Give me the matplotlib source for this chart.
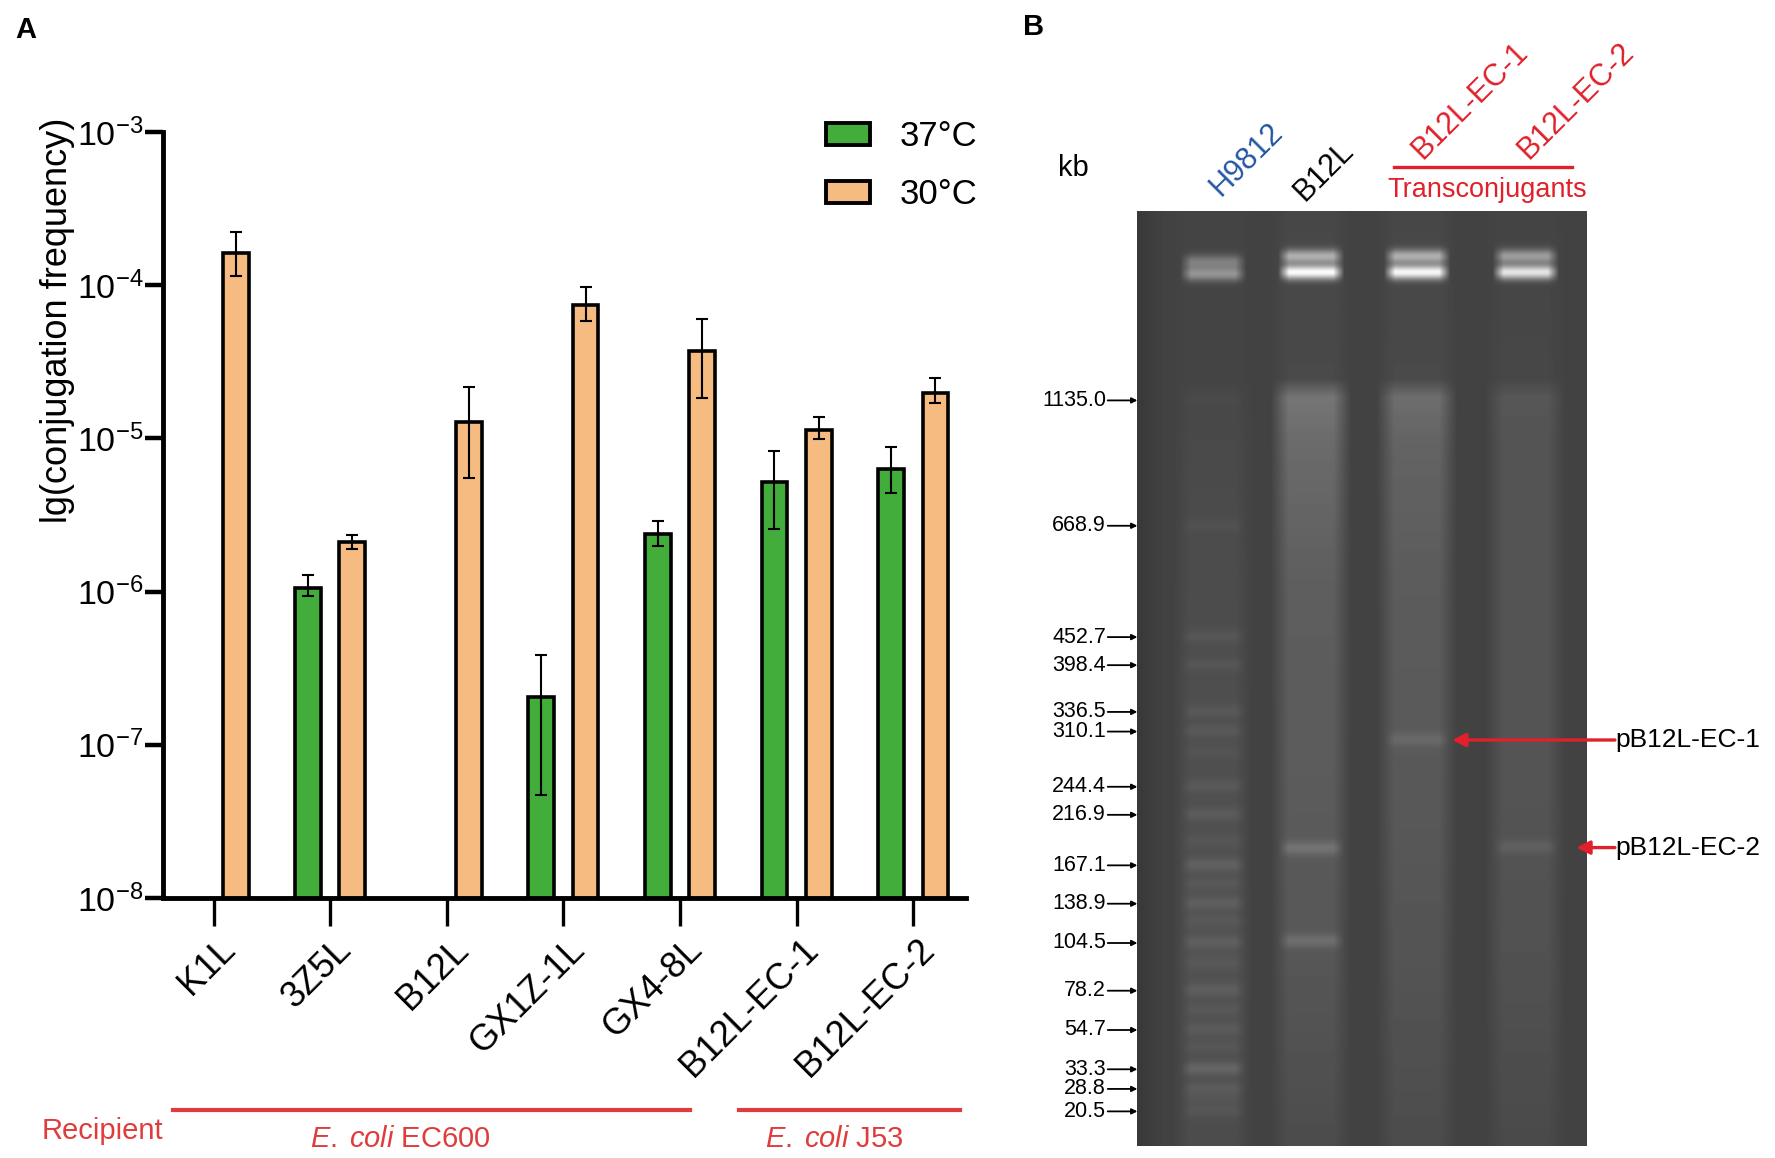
import numpy as np
import matplotlib as mpl
mpl.use("Agg")
import matplotlib.pyplot as plt
from matplotlib.patches import Patch
from matplotlib.transforms import ScaledTranslation

mpl.rcParams["font.family"] = ["Liberation Sans", "DejaVu Sans"]
mpl.rcParams["mathtext.fontset"] = "custom"
mpl.rcParams["mathtext.rm"] = "Liberation Sans"
mpl.rcParams["mathtext.it"] = "Liberation Sans:italic"
mpl.rcParams["axes.unicode_minus"] = False

W, H = 1775, 1158

# ---- panel A data: conjugation frequency ----
strains = ["K1L", "3Z5L", "B12L", "GX1Z-1L", "GX4-8L", "B12L-EC-1", "B12L-EC-2"]
freq_37 = [np.nan, 1.06e-6, np.nan, 2.04e-7, 2.36e-6, 5.18e-6, 6.34e-6]
low_37 = [np.nan, 0.94e-6, np.nan, 4.7e-8, 1.97e-6, 2.57e-6, 4.41e-6]
high_37 = [np.nan, 1.28e-6, np.nan, 3.83e-7, 2.91e-6, 8.3e-6, 8.79e-6]
freq_30 = [1.63e-4, 2.10e-6, 1.27e-5, 7.43e-5, 3.71e-5, 1.13e-5, 1.99e-5]
low_30 = [1.14e-4, 1.90e-6, 5.48e-6, 5.8e-5, 1.84e-5, 9.86e-6, 1.71e-5]
high_30 = [2.24e-4, 2.34e-6, 2.16e-5, 9.73e-5, 6.04e-5, 1.38e-5, 2.48e-5]

# ---- panel B data: PFGE gel ----
lane_names = ["H9812", "B12L", "B12L-EC-1", "B12L-EC-2"]
lane_colors = ["#2456a4", "black", "#e0202a", "#e0202a"]
marker_kb = [1135.0, 668.9, 452.7, 398.4, 336.5, 310.1, 244.4, 216.9,
             167.1, 138.9, 104.5, 78.2, 54.7, 33.3, 28.8, 20.5]
# relative migration (fraction of gel length from the top)
marker_pos = [0.203, 0.337, 0.456, 0.486, 0.536, 0.557, 0.616, 0.646,
              0.700, 0.741, 0.783, 0.834, 0.876, 0.918, 0.939, 0.963]
marker_amp = [0.012, 0.025, 0.035, 0.035, 0.04, 0.04, 0.04, 0.045,
              0.065, 0.055, 0.055, 0.055, 0.045, 0.09, 0.05, 0.035]
ladder_extra_pos = [0.58, 0.675, 0.72, 0.76, 0.805, 0.855, 0.895, 0.95]
ladder_extra_amp = [0.02, 0.025, 0.03, 0.03, 0.03, 0.03, 0.03, 0.025]
sample_bands = [[], [(0.682, 0.10), (0.781, 0.09)], [(0.566, 0.06)], [(0.681, 0.05)]]
well_bands = [[(0.055, 0.22), (0.068, 0.30)],
              [(0.049, 0.40), (0.066, 0.70)],
              [(0.049, 0.40), (0.066, 0.68)],
              [(0.049, 0.34), (0.066, 0.62)]]
smear_knots = [0.0, 0.18, 0.20, 0.25, 0.4, 0.6, 0.8, 1.0]
smear_level = [[0.27, 0.27, 0.28, 0.29, 0.30, 0.31, 0.32, 0.30],
               [0.28, 0.29, 0.46, 0.42, 0.37, 0.36, 0.34, 0.30],
               [0.28, 0.29, 0.43, 0.39, 0.36, 0.35, 0.33, 0.30],
               [0.27, 0.28, 0.34, 0.33, 0.33, 0.33, 0.32, 0.29]]
plasmids = ["pB12L-EC-1", "pB12L-EC-2"]
plasmid_pos = [0.566, 0.681]
plasmid_head_x = [0.70, 0.976]

green = "#43ad3c"
orange = "#f5bb80"
red = "#e03c3c"
gel_bg = 0.26


def fx(x):
    return x / W


def fy(y):
    return 1 - y / H


fig = plt.figure(figsize=(W / 100, H / 100), dpi=100)

# ================= panel A =================
ax = fig.add_axes([fx(162.6), fy(898), fx(966) - fx(162.6), fy(132) - fy(898)])
x = np.arange(len(strains))
off, bw = 0.19, 0.22
f37 = np.array(freq_37)
f30 = np.array(freq_30)
ax.bar(x - off, f37, bw, color=green, edgecolor="black", linewidth=2.6, zorder=2)
ax.bar(x + off, f30, bw, color=orange, edgecolor="black", linewidth=2.6, zorder=2)
ax.errorbar(x - off, f37, yerr=[f37 - np.array(low_37), np.array(high_37) - f37],
            fmt="none", ecolor="black", elinewidth=1.5, capsize=4.5, capthick=1.5, zorder=3)
ax.errorbar(x + off, f30, yerr=[f30 - np.array(low_30), np.array(high_30) - f30],
            fmt="none", ecolor="black", elinewidth=1.5, capsize=4.5, capthick=1.5, zorder=3)

ax.set_yscale("log")
ax.set_ylim(1e-8, 1e-3)
ax.set_xlim(-0.437, 6.453)
ax.yaxis.set_minor_locator(mpl.ticker.NullLocator())
ax.set_yticks([1e-8, 1e-7, 1e-6, 1e-5, 1e-4, 1e-3])
for s in ["top", "right"]:
    ax.spines[s].set_visible(False)
for s in ["left", "bottom"]:
    ax.spines[s].set_linewidth(3.5)
ax.tick_params(axis="y", length=13, width=3.2, labelsize=24.5, pad=1)
ax.tick_params(axis="x", length=20, width=2.4, labelsize=26, pad=10)
ax.set_xticks(x)
ax.set_xticklabels(strains, rotation=45, ha="right", va="top", rotation_mode="anchor")
for lab in ax.get_xticklabels():
    lab.set_transform(lab.get_transform() + ScaledTranslation(0.04, 0.08, fig.dpi_scale_trans))

fig.text(fx(58), fy(320), "lg(conjugation frequency)", rotation=90,
         ha="center", va="center", fontsize=26)

handles = [Patch(facecolor=green, edgecolor="black", linewidth=2.8, label="37°C"),
           Patch(facecolor=orange, edgecolor="black", linewidth=2.8, label="30°C")]
fig.legend(handles=handles, loc="upper left", bbox_to_anchor=(fx(826), fy(120)),
           frameon=False, fontsize=25, handlelength=1.27, handleheight=0.58,
           handletextpad=0.85, labelspacing=0.72, borderpad=0, borderaxespad=0)

fig.text(fx(26), fy(30), "A", fontsize=21, fontweight="bold", ha="center", va="center")

# recipient annotation
fig.text(fx(42), fy(1139), "Recipient", color=red, fontsize=21, ha="left", va="baseline")
fig.add_artist(plt.Line2D([fx(173), fx(690)], [fy(1110), fy(1110)], color=red, lw=3))
fig.add_artist(plt.Line2D([fx(739), fx(960)], [fy(1110), fy(1110)], color=red, lw=3))
fig.text(fx(400), fy(1147), r"$\it{E.\;coli}$ EC600", color=red, fontsize=21,
         ha="center", va="baseline")
fig.text(fx(834), fy(1147), r"$\it{E.\;coli}$ J53", color=red, fontsize=21,
         ha="center", va="baseline")

# ================= panel B =================
gl, gr, gt, gb = 1137.4, 1587, 210.5, 1146
gax = fig.add_axes([fx(gl), fy(gb), fx(gr) - fx(gl), fy(gt) - fy(gb)])
lane_x = [0.169, 0.387, 0.623, 0.865]
nh, nw = 936, 450
yy = np.linspace(0, 1, nh)[:, None]
xx = np.linspace(0, 1, nw)[None, :]
img = np.full((nh, nw), gel_bg)
img -= 0.04 * np.clip((0.06 - xx) / 0.06, 0, 1)
for i, c in enumerate(lane_x):
    smear_mask = np.clip((0.09 - np.abs(xx - c)) / 0.04, 0, 1)
    band_mask = np.clip((0.074 - np.abs(xx - c)) / 0.025, 0, 1)
    prof = np.interp(yy[:, 0], smear_knots, smear_level[i])[:, None]
    img += (prof - gel_bg) * smear_mask
    bands = list(well_bands[i]) + list(sample_bands[i])
    if i == 0:
        bands += list(zip(marker_pos, marker_amp)) + list(zip(ladder_extra_pos, ladder_extra_amp))
    for pos, amp in bands:
        sig = 0.0075
        img += amp * np.exp(-((yy - pos) / sig) ** 2) * band_mask
img = np.clip(img, 0, 1)
gax.imshow(img, cmap="gray", vmin=0, vmax=1, extent=(0, 1, 1, 0),
           aspect="auto", interpolation="bilinear")
gax.set_xlim(0, 1)
gax.set_ylim(1, 0)
gax.axis("off")

# size marker labels
for kb, pos in zip(marker_kb, marker_pos):
    gax.annotate("", xy=(0, pos), xytext=(-0.066, pos),
                 xycoords=("axes fraction", "data"), textcoords=("axes fraction", "data"),
                 arrowprops=dict(arrowstyle="-|>", color="black", lw=1.3,
                                 mutation_scale=8, shrinkA=0, shrinkB=0),
                 annotation_clip=False)
    gax.text(-0.07, pos, f"{kb:.1f}", ha="right", va="center", fontsize=15.5,
             transform=gax.get_yaxis_transform(), clip_on=False)

fig.text(fx(1073), fy(168), "kb", fontsize=21, ha="center", va="center")

# lane labels
lane_label_xy = [(1247, 160), (1324, 171), (1470, 101), (1576, 101)]
for name, col, (lx, ly) in zip(lane_names, lane_colors, lane_label_xy):
    fig.text(fx(lx), fy(ly), name, color=col, fontsize=22, rotation=45,
             ha="center", va="center")
fig.add_artist(plt.Line2D([fx(1394), fx(1572)], [fy(167), fy(167)], color="#e0202a", lw=2.4))
fig.text(fx(1487), fy(190), "Transconjugants", color="#e0202a", fontsize=19.5,
         ha="center", va="center")

# plasmid arrows
for name, pos, hx in zip(plasmids, plasmid_pos, plasmid_head_x):
    gax.annotate("", xy=(hx, pos), xytext=(1.062, pos),
                 xycoords=("axes fraction", "data"), textcoords=("axes fraction", "data"),
                 arrowprops=dict(arrowstyle="-|>", color="#e0202a", lw=2.4,
                                 mutation_scale=20, shrinkA=0, shrinkB=0),
                 annotation_clip=False)
    gax.text(1.062, pos, name, ha="left", va="center", fontsize=19,
             transform=gax.get_yaxis_transform(), clip_on=False)

fig.text(fx(1034), fy(27), "B", fontsize=21, fontweight="bold", ha="center", va="center")

fig.savefig("out.png", dpi=100)
